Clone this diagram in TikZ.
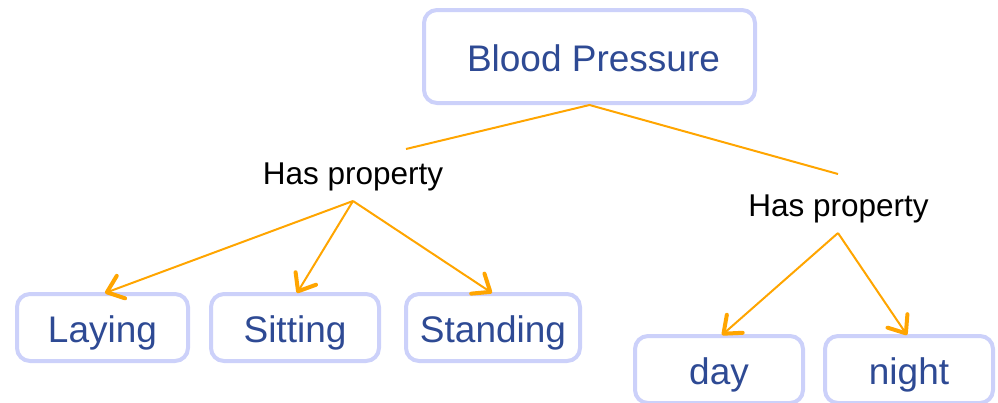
\documentclass[tikz,border=0pt]{standalone}
\usepackage{fontspec}
\setmainfont{Liberation Sans}
\usetikzlibrary{arrows.meta}
\definecolor{boxline}{HTML}{CCD1FA}
\definecolor{boxtext}{HTML}{2E4A94}
\definecolor{conn}{HTML}{FFA500}
\tikzset{
  concept/.style={draw=boxline, line width=4pt, rounded corners=13pt, fill=white,
    text=boxtext, font=\fontsize{37}{44}\selectfont, inner sep=0pt,
    text height=29.5pt, text depth=0pt, minimum height=67pt},
  rellabel/.style={text=black, font=\fontsize{31.5}{38}\selectfont, inner sep=0pt, anchor=base},
  link/.style={draw=conn, line width=2pt},
  arrowlink/.style={draw=conn, line width=2pt,
    -{Straight Barb[length=15pt,width=24pt,line width=4pt,round]}}
}
\begin{document}
\begin{tikzpicture}[x=1pt,y=-1pt]
\useasboundingbox (0,0) rectangle (998,402);
% concepts
\node[concept, minimum width=331pt, minimum height=93pt] (bp) at (589.5,56.5) {\hspace*{8pt}Blood Pressure};
\node[concept, minimum width=171pt] (lay) at (102.5,327.5) {Laying};
\node[concept, minimum width=168pt] (sit) at (295,327.5) {Sitting};
\node[concept, minimum width=174pt] (sta) at (493,327.5) {Standing};
\node[concept, minimum width=168pt] (day) at (719,369.5) {day};
\node[concept, minimum width=168pt] (nig) at (909,369.5) {night};
% relation labels
\node[rellabel] (hp1) at (353,184) {Has property};
\node[rellabel] (hp2) at (838.5,216) {Has property};
% connector points
\coordinate (c1) at (406,149);
\coordinate (c2) at (838,174);
\coordinate (p1) at (353,201);
\coordinate (p2) at (838,233);
\coordinate (tlay) at (105,293);
\coordinate (tsit) at (297,293);
\coordinate (tsta) at (492,293);
\coordinate (tday) at (722,335);
\coordinate (tnig) at (907,335);
% connectors
\draw[link] (c1) -- (bp.south) -- (c2);
\draw[arrowlink] (p1) -- (tlay);
\draw[arrowlink] (p1) -- (tsit);
\draw[arrowlink] (p1) -- (tsta);
\draw[arrowlink] (p2) -- (tday);
\draw[arrowlink] (p2) -- (tnig);
\end{tikzpicture}
\end{document}
